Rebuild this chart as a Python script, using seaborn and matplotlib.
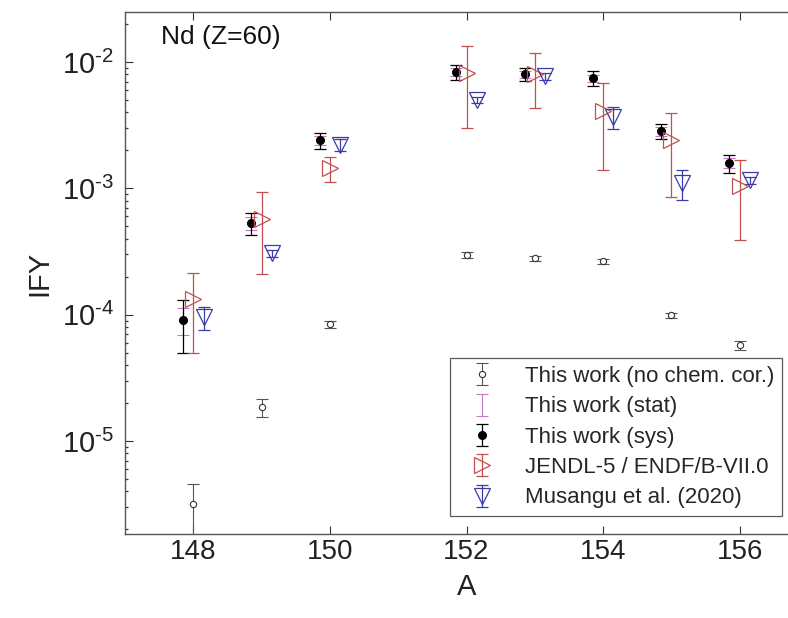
import numpy as np
import matplotlib
matplotlib.use("Agg")
import matplotlib.pyplot as plt
from matplotlib.ticker import FixedLocator, NullFormatter
import seaborn as sns

# mass numbers
mass = np.array([148, 149, 150, 152, 153, 154, 155, 156])

# This work, no chemical correction
ify_nocor = np.array([3.2e-6, 1.86e-5, 8.4e-5, 2.96e-4, 2.8e-4, 2.65e-4, 9.9e-5, 5.75e-5])
err_nocor = np.array([1.4e-6, 0.3e-5, 0.5e-5, 0.15e-4, 0.12e-4, 0.12e-4, 0.5e-5, 0.5e-5])

# This work (corrected), stat and sys uncertainties
ify_work = np.array([9.06e-5, 5.31e-4, 2.41e-3, 8.33e-3, 8.03e-3, 7.47e-3, 2.84e-3, 1.59e-3])
err_stat = np.array([2.2e-5, 0.6e-4, 0.2e-3, 0.6e-3, 0.5e-3, 0.5e-3, 0.22e-3, 0.14e-3])
err_sys = np.array([4.1e-5, 1.05e-4, 0.35e-3, 1.15e-3, 1.0e-3, 0.95e-3, 0.4e-3, 0.26e-3])

# JENDL-5 / ENDF/B-VII.0
ify_jendl = np.array([1.33e-4, 5.71e-4, 1.45e-3, 8.18e-3, 8.03e-3, 4.09e-3, 2.41e-3, 1.04e-3])
err_jendl = np.array([8.3e-5, 3.6e-4, 0.32e-3, 5.2e-3, 3.7e-3, 2.7e-3, 1.55e-3, 6.5e-4])

# Musangu et al. (2020)
ify_mus = np.array([9.57e-5, 3.08e-4, 2.2e-3, 5.0e-3, 7.75e-3, 3.67e-3, 1.10e-3, 1.16e-3])
err_mus = np.array([2.0e-5, 0.2e-4, 0.24e-3, 0.3e-3, 0.5e-3, 0.7e-3, 0.29e-3, 0.08e-3])

ytick_vals = [1e-5, 1e-4, 1e-3, 1e-2]
ytick_labels = ['$10^{\\text{-}5}$', '$10^{\\text{-}4}$', '$10^{\\text{-}3}$', '$10^{\\text{-}2}$']

sns.set_style("ticks")
plt.rcParams['font.family'] = ['Liberation Sans', 'DejaVu Sans']
plt.rcParams['mathtext.fontset'] = 'custom'
plt.rcParams['mathtext.rm'] = 'Liberation Sans'
plt.rcParams['mathtext.it'] = 'Liberation Sans:italic'
plt.rcParams['mathtext.bf'] = 'Liberation Sans:bold'

fig = plt.figure(figsize=(7.88, 6.18), dpi=100)
ax = fig.add_axes([125 / 788, 84 / 618, 683 / 788, 522 / 618])

red = '#c0504d'
blue = '#3a3aa8'
mag = '#c878c8'

ax.errorbar(mass, ify_nocor, yerr=err_nocor, fmt='o', ms=4.5, mfc='white', mec='#333333',
            mew=0.8, ecolor='#555555', elinewidth=0.8, capsize=4, capthick=0.8,
            label='This work (no chem. cor.)', zorder=3)
ax.errorbar(mass - 0.15, ify_work, yerr=err_stat, fmt='none', ecolor=mag,
            elinewidth=0.8, capsize=4, capthick=0.8, label='This work (stat)', zorder=3)
ax.errorbar(mass - 0.15, ify_work, yerr=err_sys, fmt='o', ms=5.5, color='black',
            elinewidth=0.9, capsize=4, capthick=0.9, label='This work (sys)', zorder=4)
ax.errorbar(mass, ify_jendl, yerr=err_jendl, fmt='>', ms=11, mfc='none', mec=red,
            mew=0.9, ecolor=red, elinewidth=0.9, capsize=4.5, capthick=0.9,
            label='JENDL-5 / ENDF/B-VII.0', zorder=5)
ax.errorbar(mass + 0.15, ify_mus, yerr=err_mus, fmt='v', ms=11, mfc='none', mec=blue,
            mew=0.9, ecolor=blue, elinewidth=0.9, capsize=4.5, capthick=0.9,
            label='Musangu et al. (2020)', zorder=5)

ax.set_yscale('log')
ax.set_xlim(147, 157)
ax.set_ylim(1.84e-6, 2.49e-2)
ax.set_xticks([148, 150, 152, 154, 156])
ax.set_yticks(ytick_vals)
ax.set_yticklabels(ytick_labels)
minor_y = np.outer(10.0 ** np.arange(-6, -1), np.arange(2, 10)).ravel()
ax.yaxis.set_minor_locator(FixedLocator(minor_y))
ax.yaxis.set_minor_formatter(NullFormatter())

for s in ax.spines.values():
    s.set_color('#555555')
    s.set_linewidth(1.0)
ax.tick_params(which='both', direction='in', top=True, right=True, colors='#333333',
               labelsize=20, labelcolor='#222222')
ax.tick_params(which='major', length=6)
ax.tick_params(axis='y', which='major', labelsize=21, pad=8)
ax.tick_params(axis='y', which='minor', left=True, right=True, length=2.5, width=0.9,
               color='#333333')
ax.tick_params(axis='x', which='minor', bottom=False, top=False)

ax.set_xlabel('A', fontsize=21, color='#222222', labelpad=6)
ax.set_ylabel('IFY', fontsize=21, color='#222222', labelpad=6)
ax.text(0.052, 0.975, 'Nd (Z=60)', transform=ax.transAxes, fontsize=19,
        va='top', ha='left', color='#111111')

leg = ax.legend(loc='lower left', bbox_to_anchor=(0.476, 0.034), fontsize=16,
                frameon=True, fancybox=False, borderpad=0.35, labelspacing=0.42,
                handlelength=2.2, handletextpad=0.8, borderaxespad=0)
leg.get_frame().set_edgecolor('#333333')
leg.get_frame().set_linewidth(0.9)

fig.savefig('out.png', dpi=100)
